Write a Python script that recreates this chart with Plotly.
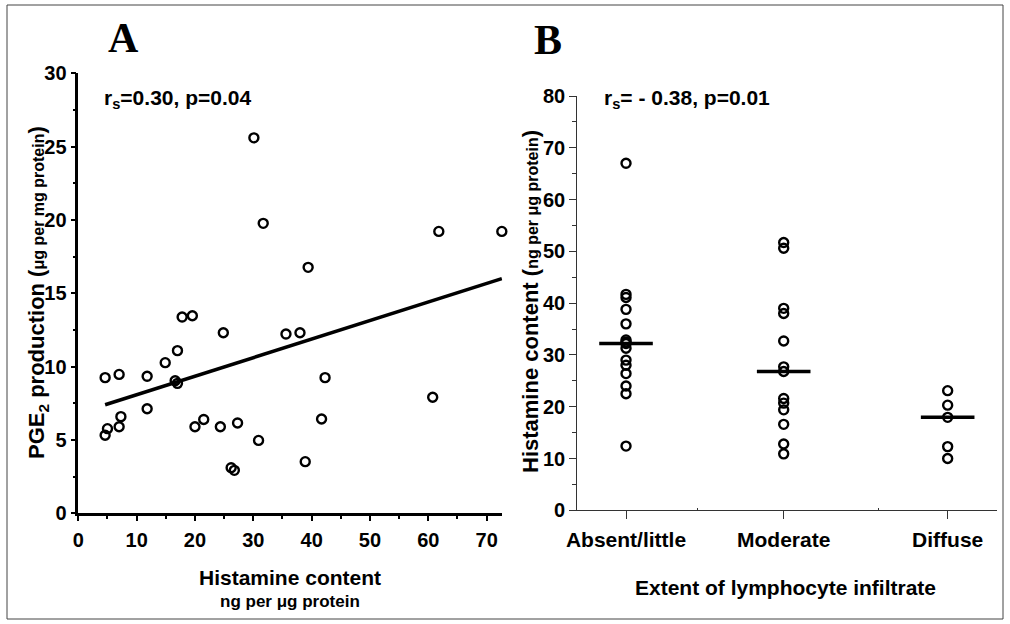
import numpy as np
import plotly.graph_objects as go

# ---------------- Panel A data ----------------
histamine_a = [4.6, 7.0, 11.8, 14.9, 17.0, 16.6, 17.0, 4.6, 5.0, 7.0, 7.3, 11.8,
               20.0, 21.5, 24.35, 27.3, 26.2, 26.75, 30.9, 38.9, 41.7, 42.3, 60.75,
               30.1, 31.7, 61.8, 72.6, 39.4, 17.8, 19.55, 24.86, 35.6, 38.0]
pge2_a = [9.25, 9.47, 9.34, 10.27, 11.09, 9.04, 8.86, 5.32, 5.77, 5.9, 6.59, 7.13,
          5.9, 6.4, 5.9, 6.16, 3.11, 2.93, 4.97, 3.52, 6.43, 9.25, 7.91,
          25.6, 19.77, 19.22, 19.22, 16.77, 13.38, 13.47, 12.31, 12.22, 12.31]
reg_x = [4.6, 72.6]
reg_y = [7.4, 16.0]
x_ticks_a = [0, 10, 20, 30, 40, 50, 60, 70]
y_ticks_a = [0, 5, 10, 15, 20, 25, 30]

# ---------------- Panel B data ----------------
categories = ["Absent/little", "Moderate", "Diffuse"]
category_positions = [1.0, 2.0, 3.04]
absent_vals = [12.4, 22.5, 24.0, 26.4, 28.0, 29.0, 31.3, 32.2, 32.5, 32.9, 36.0,
               38.8, 41.1, 41.7, 67.0]
moderate_vals = [10.9, 12.8, 16.6, 19.4, 20.7, 21.6, 26.8, 27.7, 32.7, 38.0, 39.0,
                 50.6, 51.7]
diffuse_vals = [10.0, 12.3, 17.95, 20.3, 23.1]
y_ticks_b = [0, 10, 20, 30, 40, 50, 60, 70, 80]

FONT = "Liberation Sans, Arial, sans-serif"
SERIF = "Liberation Serif, Times New Roman, serif"
W, H = 1010, 624


def px(x):
    """window x pixel -> paper fraction"""
    return x / W


def py(y):
    """window y pixel -> paper fraction"""
    return (H - y) / H


fig = go.Figure()

marker = dict(symbol="circle-open", size=9, color="black",
              line=dict(width=2.4, color="black"))

# Panel A
fig.add_trace(go.Scatter(x=histamine_a, y=pge2_a, mode="markers", marker=marker,
                         xaxis="x", yaxis="y", cliponaxis=False, showlegend=False))
fig.add_trace(go.Scatter(x=reg_x, y=reg_y, mode="lines",
                         line=dict(color="black", width=3.5),
                         xaxis="x", yaxis="y", cliponaxis=False, showlegend=False))

# Panel B
groups = [absent_vals, moderate_vals, diffuse_vals]
half_w = 0.17
for pos, vals in zip(category_positions, groups):
    fig.add_trace(go.Scatter(x=[pos] * len(vals), y=vals, mode="markers", marker=marker,
                             xaxis="x2", yaxis="y2", cliponaxis=False, showlegend=False))
    med = float(np.median(vals))
    fig.add_trace(go.Scatter(x=[pos - half_w, pos + half_w], y=[med, med], mode="lines",
                             line=dict(color="black", width=3.5),
                             xaxis="x2", yaxis="y2", cliponaxis=False, showlegend=False))

numfont = dict(family=FONT, size=20, color="black", weight="bold")
catfont = dict(family=FONT, size=21, color="black", weight="bold")

fig.update_layout(
    width=W, height=H,
    margin=dict(l=0, r=0, t=0, b=0, autoexpand=False),
    paper_bgcolor="white", plot_bgcolor="white",
    showlegend=False,
    xaxis=dict(domain=[px(78.3), px(502.4)], range=[0, 72.7], anchor="y",
               showline=True, linecolor="black", linewidth=2.5,
               tickmode="array", tickvals=x_ticks_a, ticks="outside",
               ticklen=5, tickwidth=2, tickcolor="black",
               minor=dict(dtick=5, tick0=0, ticks="outside", ticklen=3, tickwidth=1.5,
                          tickcolor="black", showgrid=False),
               showgrid=False, zeroline=False, tickfont=numfont,
               ticklabelstandoff=2, automargin=False),
    yaxis=dict(domain=[py(513.3), py(73.3)], range=[0, 30], anchor="x",
               showline=True, linecolor="black", linewidth=2.5,
               tickmode="array", tickvals=y_ticks_a, ticks="outside",
               ticklen=5, tickwidth=2, tickcolor="black",
               minor=dict(dtick=2.5, tick0=0, ticks="outside", ticklen=3, tickwidth=1.5,
                          tickcolor="black", showgrid=False),
               showgrid=False, zeroline=False, tickfont=numfont, automargin=False),
    xaxis2=dict(domain=[px(577.3), px(996.7)], range=[0.691, 3.351], anchor="y2",
                showline=True, linecolor="#333", linewidth=1.3,
                tickmode="array", tickvals=category_positions, ticktext=categories,
                ticks="outside", ticklen=8, tickwidth=1.3, tickcolor="#333",
                minor=dict(tick0=1.455, dtick=1.145, ticks="inside", ticklen=2,
                           tickwidth=1.3, tickcolor="#333", showgrid=False),
                showgrid=False, zeroline=False, tickfont=catfont,
                ticklabelstandoff=2, automargin=False),
    yaxis2=dict(domain=[py(510.3), py(96.0)], range=[0, 80], anchor="x2",
                showline=True, linecolor="#333", linewidth=1.3,
                tickmode="array", tickvals=y_ticks_b, ticks="outside",
                ticklen=7, tickwidth=1.3, tickcolor="#333",
                minor=dict(dtick=5, tick0=0, ticks="outside", ticklen=4, tickwidth=1.2,
                           tickcolor="#333", showgrid=False),
                showgrid=False, zeroline=False, tickfont=numfont, automargin=False),
)


def ann(x, y, text, size=21, family=FONT, angle=0, xanchor="center", yanchor="middle"):
    fig.add_annotation(x=x, y=y, xref="paper", yref="paper", text=text,
                       showarrow=False, textangle=angle, xanchor=xanchor, yanchor=yanchor,
                       font=dict(family=family, size=size, color="black", weight="bold"))


# Panel letters
ann(px(123), py(38), "A", size=42, family=SERIF)
ann(px(548), py(40), "B", size=42, family=SERIF)

# Statistics
ann(px(102), py(99), "r<sub>s</sub>=0.30, p=0.04", size=21, xanchor="left")
ann(px(602), py(99), "r<sub>s</sub>= - 0.38, p=0.01", size=21, xanchor="left")

# Axis titles panel A
ann(px(290), py(577), "Histamine content", size=21)
ann(px(290), py(601), "ng per \u03bcg protein", size=17)
ann(px(38), py(293),
    "PGE<sub>2</sub> production (<span style='font-size:16px'>\u03bcg per mg protein</span>)",
    size=22, angle=-90)

# Axis titles panel B
ann(px(785), py(587), "Extent of lymphocyte infiltrate", size=21)
ann(px(531), py(302),
    "Histamine content (<span style='font-size:16px'>ng per \u03bcg protein</span>)",
    size=22, angle=-90)

# Outer frame
fig.add_shape(type="rect", xref="paper", yref="paper",
              x0=px(7), x1=px(1003), y0=py(619), y1=py(5),
              line=dict(color="#444", width=1), fillcolor="rgba(0,0,0,0)", layer="below")

# the page body gets no margin so the 1010x624 figure fills the window exactly
fig.write_html(
    "out.html",
    config={"displayModeBar": False},
    post_script="document.body.style.margin='0';"
                "document.body.style.overflow='hidden';",
)
